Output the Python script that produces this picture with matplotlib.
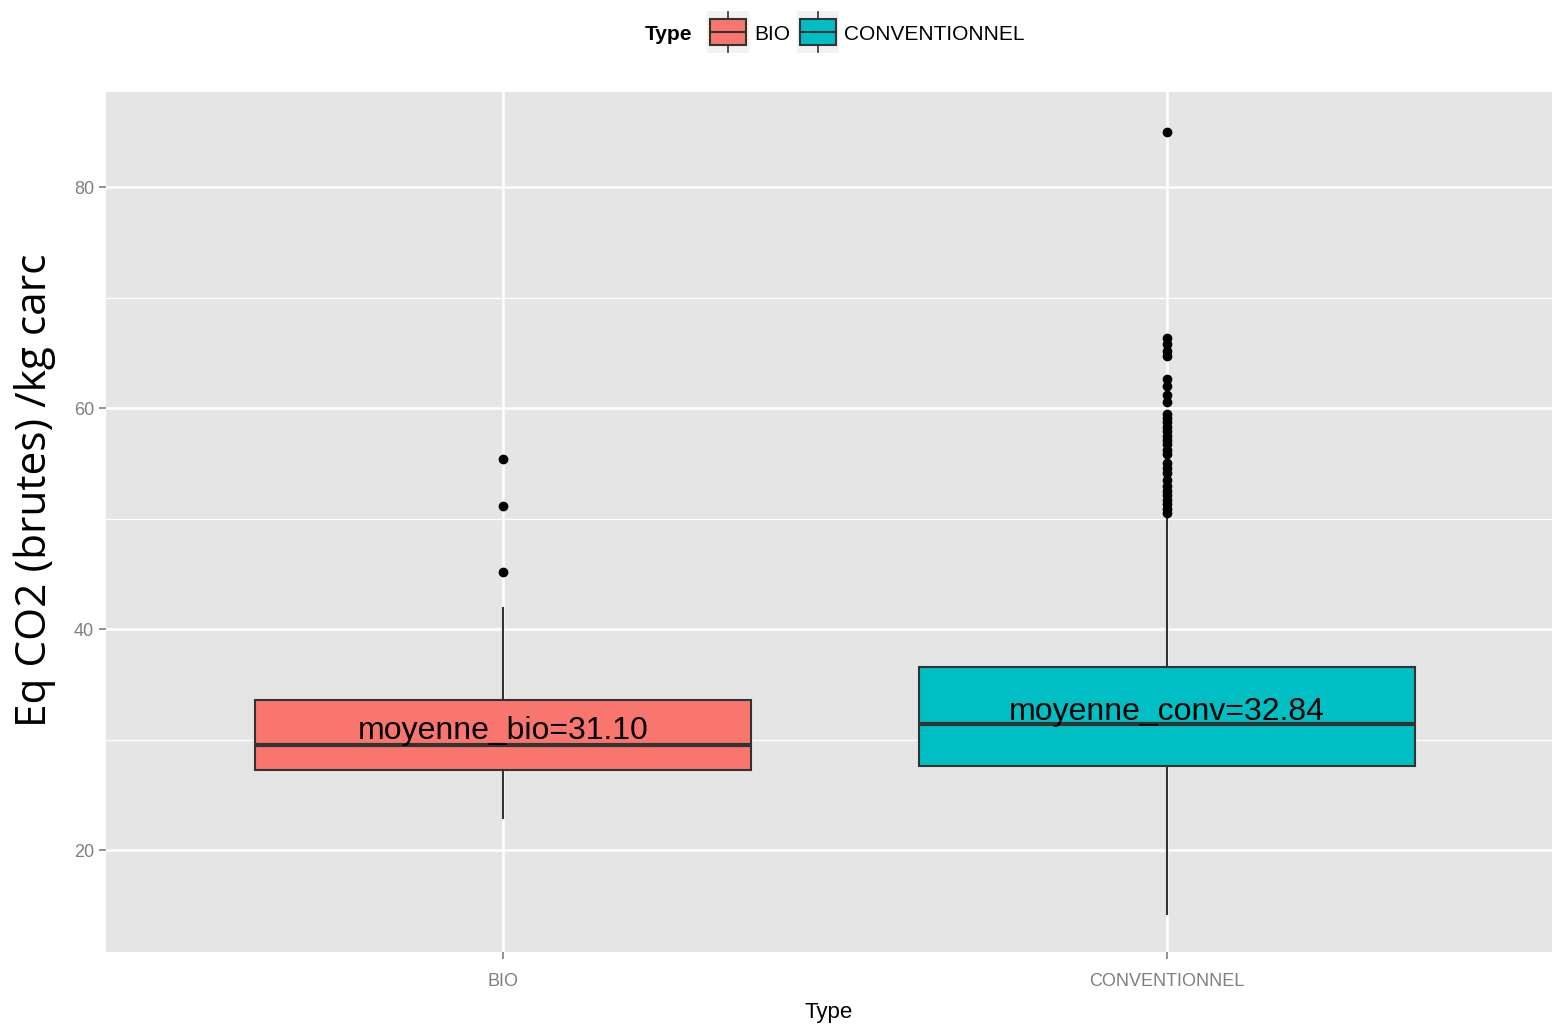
import matplotlib
matplotlib.use("Agg")
import matplotlib.pyplot as plt
from matplotlib.patches import Rectangle

categories = ["BIO", "CONVENTIONNEL"]
colors = ["#F8766D", "#00BFC4"]
q1 = [27.2, 27.6]
median = [29.5, 31.4]
q3 = [33.6, 36.6]
whislo = [22.9, 14.2]
whishi = [41.9, 50.3]
fliers = [
    [55.4, 51.1, 45.2],
    [85.0, 66.3, 65.8, 65.2, 64.7, 62.6, 62.0, 61.2, 60.5, 59.5, 59.1, 58.7,
     58.3, 57.9, 57.5, 57.1, 56.7, 56.2, 55.8, 55.0, 54.6, 54.1, 53.5, 52.9,
     52.5, 52.1, 51.7, 51.3, 50.9, 50.5],
]
means = [31.10, 32.84]
mean_labels = ["moyenne_bio=31.10", "moyenne_conv=32.84"]
yticks = [20, 40, 60, 80]

plt.rcParams['font.family'] = ['Liberation Sans', 'DejaVu Sans']

fig = plt.figure(figsize=(15.52, 10.27), dpi=100)
ax = fig.add_axes([106/1552, 75/1027, 1446/1552, 860/1027])
ax.set_facecolor("#E5E5E5")
for s in ax.spines.values():
    s.set_visible(False)

pos = [1, 2]
stats = []
for i in range(2):
    stats.append(dict(med=median[i], q1=q1[i], q3=q3[i], whislo=whislo[i],
                      whishi=whishi[i], fliers=fliers[i], label=categories[i]))

bp = ax.bxp(stats, positions=pos, widths=0.747, patch_artist=True, showcaps=False,
            boxprops=dict(edgecolor="#333333", linewidth=1.5),
            whiskerprops=dict(color="#333333", linewidth=1.5),
            medianprops=dict(color="#333333", linewidth=3),
            flierprops=dict(marker="o", markerfacecolor="black", markeredgecolor="black",
                            markersize=6, linestyle="none"), zorder=3)
for p, c in zip(bp["boxes"], colors):
    p.set_facecolor(c)

ax.set_xlim(0.402, 2.58)
ax.set_ylim(10.77, 88.6)
ax.set_yticks(yticks)
ax.set_yticks([30, 50, 70], minor=True)
ax.set_xticks(pos)
ax.set_xticklabels(categories)
ax.grid(which="major", color="white", linewidth=1.8, zorder=0)
ax.grid(which="minor", axis="y", color="white", linewidth=0.9, zorder=0)
ax.set_axisbelow(True)
ax.tick_params(axis="both", which="major", colors="#7F7F7F", labelsize=13, length=5, width=1.2, labelcolor="#7F7F7F")
ax.tick_params(axis="x", which="major", pad=10)
ax.tick_params(axis="y", which="minor", length=0)

for i in range(2):
    ax.text(pos[i], means[i], mean_labels[i], ha="center", va="center_baseline", fontsize=23,
            color="black", zorder=5)

ax.set_xlabel("Type", fontsize=16, color="black", labelpad=9)
fig.text(35/1552, 1 - 490/1027, "Eq CO2 (brutes) /kg carc", rotation=90, ha="center", va="center",
         fontsize=30.5, family=["Open Sans", "DejaVu Sans"])

# legend
fig.text(692/1552, 1 - 34/1027, "Type", ha="right", va="center", fontsize=15, fontweight="bold")
for x0, c, lab in [(707, colors[0], categories[0]), (797, colors[1], categories[1])]:
    kax = fig.add_axes([x0/1552, 1 - 53/1027, 42/1552, 42/1027])
    kax.set_xlim(0, 1); kax.set_ylim(0, 1)
    kax.set_facecolor("#F2F2F2")
    kax.set_xticks([]); kax.set_yticks([])
    for s in kax.spines.values():
        s.set_visible(False)
    kax.plot([0.5, 0.5], [0.02, 0.2], color="#333333", lw=1.2)
    kax.plot([0.5, 0.5], [0.8, 0.98], color="#333333", lw=1.2)
    kax.add_patch(Rectangle((0.07, 0.2), 0.86, 0.6, facecolor=c, edgecolor="#333333", lw=1.5))
    kax.plot([0.07, 0.93], [0.5, 0.5], color="#333333", lw=1.5)
    fig.text((x0 + 47)/1552, 1 - 34/1027, lab, ha="left", va="center", fontsize=15)

fig.savefig("out.png", dpi=100)
